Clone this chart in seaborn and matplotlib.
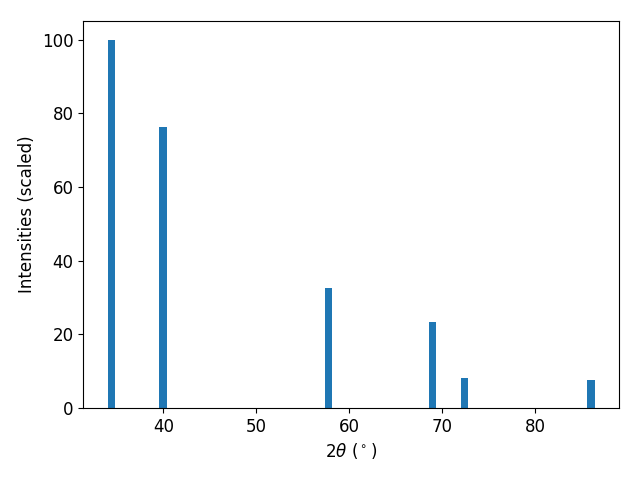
import numpy as np
import pandas as pd
import seaborn as sns
import matplotlib
matplotlib.use("Agg")
import matplotlib.pyplot as plt

# peak positions (2theta, degrees) and scaled intensities
two_theta = [34.4, 39.95, 57.75, 68.95, 72.4, 86.0]
intensity = [100.0, 76.3, 32.6, 23.4, 8.1, 7.6]

df = pd.DataFrame({"two_theta": two_theta, "intensity": intensity})

plt.rcParams["font.size"] = 12
fig, ax = plt.subplots(figsize=(6.4, 4.8), dpi=100)

# bar width 0.8 degrees; seaborn scales width by smallest gap in native scale
min_gap = np.diff(sorted(two_theta)).min()
sns.barplot(data=df, x="two_theta", y="intensity", native_scale=True,
            width=0.8 / min_gap, color="#1f77b4", saturation=1, ax=ax)

ax.set_xlim(31.38, 89.02)
ax.set_ylim(0, 105)
ax.set_xlabel(r"2$\theta$ ($^\circ$)")
ax.set_ylabel("Intensities (scaled)")

fig.subplots_adjust(left=0.13, right=0.967, top=0.956, bottom=0.15)
fig.savefig("out.png")
